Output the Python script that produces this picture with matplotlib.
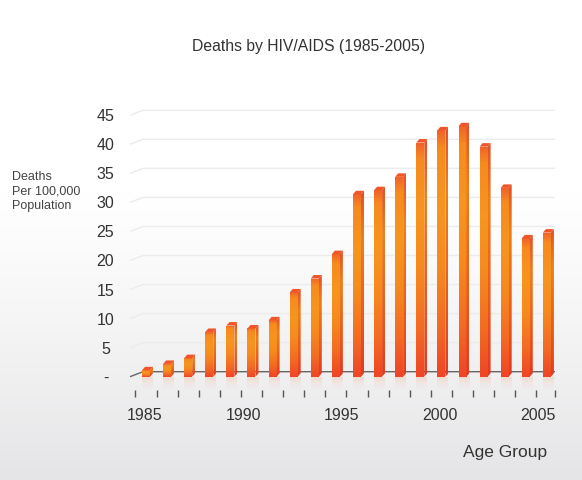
import numpy as np
import matplotlib
matplotlib.use("Agg")
import matplotlib.pyplot as plt
from matplotlib.colors import LinearSegmentedColormap
from matplotlib.patches import Polygon

plt.rcParams['font.family'] = ['Liberation Sans', 'DejaVu Sans']

# data
years = list(range(1985, 2005))
deaths = [1.1, 2.2, 3.2, 7.7, 8.8, 8.3, 9.7, 14.5, 16.9, 21.1,
          31.4, 32.1, 34.4, 40.3, 42.4, 43.1, 39.6, 32.5, 23.8, 24.8]
y_ticks = [0, 5, 10, 15, 20, 25, 30, 35, 40, 45]
y_labels = ['-', '5', '10', '15', '20', '25', '30', '35', '40', '45']
x_label_years = [1985, 1990, 1995, 2000, 2005]

W, H = 582, 480
fig = plt.figure(figsize=(W / 100, H / 100), dpi=100)

# background gradient
bg = fig.add_axes([0, 0, 1, 1], zorder=-10)
bg.axis('off')
t = np.linspace(0, 1, 300)
shade = np.clip((t - 0.4) / 0.6, 0, 1) ** 1.2
top = np.array([1.0, 1.0, 1.0])
bot = np.array([0.898, 0.898, 0.906])
grad = top[None, :] * (1 - shade[:, None]) + bot[None, :] * shade[:, None]
bg.imshow(grad[:, None, :], aspect='auto', extent=[0, 1, 0, 1])

# main axes placed in pixel box
left, right, ptop, pbot = 125, 560, 100, 400
ax = fig.add_axes([left / W, 1 - pbot / H, (right - left) / W, (pbot - ptop) / H])
ax.patch.set_alpha(0)
for s in ax.spines.values():
    s.set_visible(False)

px_x = 21.1     # pixels per category
px_y = 5.81     # pixels per unit
x0_px, y0_px = 146, 376.7
ax.set_xlim((left - x0_px) / px_x, (right - x0_px) / px_x)
ax.set_ylim((y0_px - pbot) / px_y, (y0_px - ptop) / px_y)

n = len(deaths)
xs = np.arange(n)
depth_x = 13 / px_x
depth_y = 5 / px_y

# grid lines with a little perspective kink at the left
for v in y_ticks:
    col = '#666666' if v == 0 else '#ececec'
    gx = [(130 - x0_px) / px_x, (130 - x0_px) / px_x + depth_x, (555 - x0_px) / px_x]
    gy = [v, v + depth_y, v + depth_y]
    ax.plot(gx, gy, color=col, lw=1.0, zorder=1, solid_capstyle='butt')

ax.set_yticks(y_ticks, y_labels)
ax.tick_params(axis='y', length=0, pad=14, labelsize=11.5, labelcolor='#333333')
for lab in ax.get_yticklabels():
    lab.set_horizontalalignment('center')
ax.set_xticks([])

# bars
bw = 8 / px_x
sx = 3 / px_x
sy = 3.5 / px_y
stops = [(0.0, '#ef4426'), (0.2, '#f36a23'), (0.45, '#f6891f'),
         (0.7, '#f7951e'), (0.93, '#f68a1f'), (1.0, '#f16229')]
front_cmap = LinearSegmentedColormap.from_list('front', stops)
side_cmap = LinearSegmentedColormap.from_list(
    'side', [(0.0, '#e03a22'), (0.3, '#e6591f'), (0.75, '#ec801c'), (1.0, '#e0502a')])
g = np.linspace(0, 1, 256)[:, None]

for x, v in zip(xs, deaths):
    xa, xb = x - bw / 2, x + bw / 2
    rect = ax.bar(x, v, width=bw, bottom=0, color='none', zorder=3)[0]
    im = ax.imshow(g, cmap=front_cmap, aspect='auto', origin='lower',
                   extent=[xa, xb, 0, v], zorder=3)
    im.set_clip_path(rect)
    side = Polygon([(xb, 0), (xb + sx, sy), (xb + sx, v + sy), (xb, v)],
                   closed=True, facecolor='none', edgecolor='none', zorder=3)
    ax.add_patch(side)
    ims = ax.imshow(g, cmap=side_cmap, aspect='auto', origin='lower',
                    extent=[xb, xb + sx, 0, v + sy], zorder=3)
    ims.set_clip_path(side)
    capc = Polygon([(xa, v), (xa + sx, v + sy), (xb + sx, v + sy), (xb, v)],
                   closed=True, facecolor='#f0552a', edgecolor='none', zorder=3)
    ax.add_patch(capc)
    # soft reflection under the bar
    refl = np.zeros((64, 1, 4))
    refl[..., 0], refl[..., 1], refl[..., 2] = 0.97, 0.55, 0.35
    refl[:, 0, 3] = np.linspace(0, 0.35, 64) ** 1.5
    ax.imshow(refl, aspect='auto', origin='lower',
              extent=[xa, xb + sx, -14 / px_y, 0], zorder=2)

ax.set_xlim((left - x0_px) / px_x, (right - x0_px) / px_x)
ax.set_ylim((y0_px - pbot) / px_y, (y0_px - ptop) / px_y)

# small category ticks below the plot
tick_pos = list(xs - 0.5) + [(555 - x0_px) / px_x]
ax.vlines(tick_pos, (y0_px - 390) / px_y, (y0_px - 396.5) / px_y,
          color='#555555', lw=1, clip_on=False)

# year labels along the bottom
for yr in x_label_years:
    pos = (yr - 1985) * 18.61 / 20 - 0.05
    ax.text(pos, (y0_px - 416) / px_y, str(yr), ha='center', va='center',
            fontsize=11.5, color='#333333', clip_on=False)

fig.text(309 / W, 1 - 47 / H, 'Deaths by HIV/AIDS (1985-2005)', ha='center',
         va='center', fontsize=11.3, color='#333333')
fig.text(12 / W, 1 - 191.5 / H, 'Deaths\nPer 100,000\nPopulation', ha='left',
         va='center', fontsize=9, color='#444444', linespacing=1.25)
fig.text(505 / W, 1 - 452 / H, 'Age Group', ha='center', va='center',
         fontsize=12.5, color='#333333')

fig.savefig('out.png', dpi=100)
